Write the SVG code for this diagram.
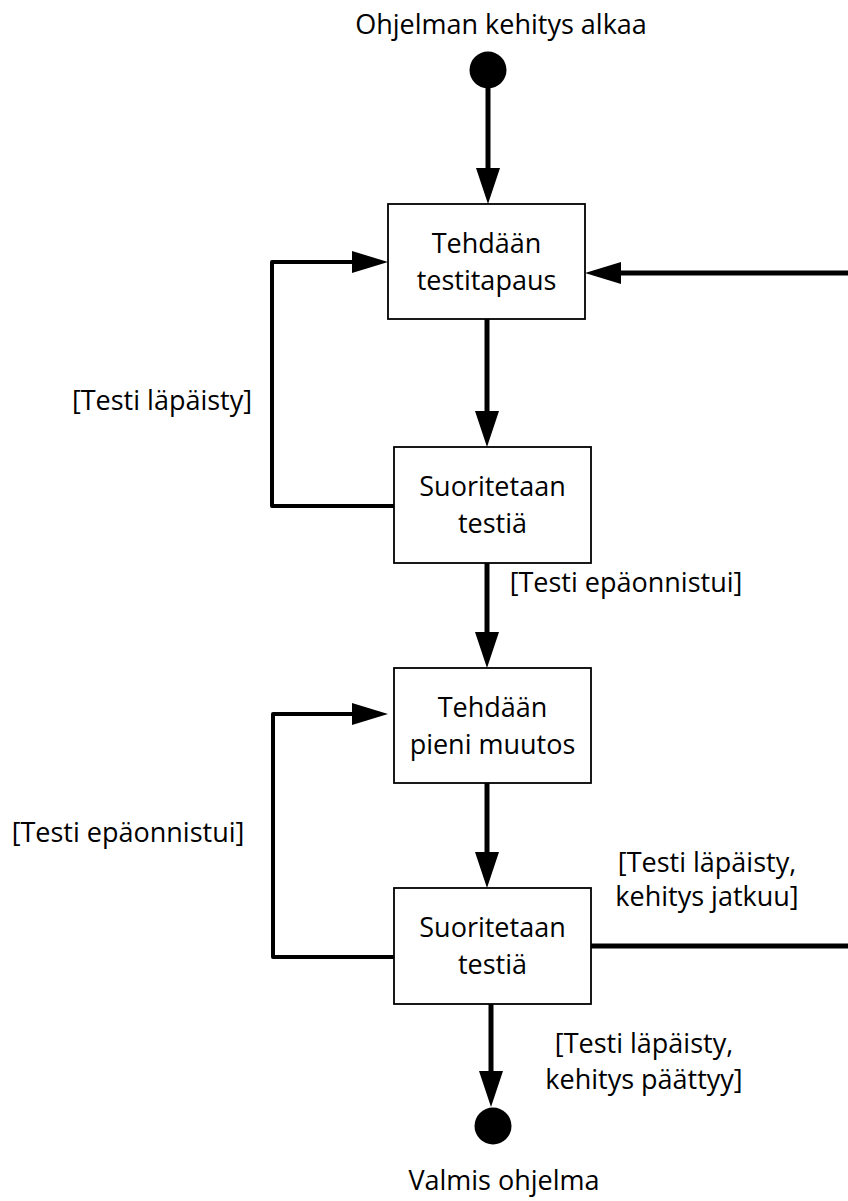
<svg xmlns="http://www.w3.org/2000/svg" width="848" height="1201" viewBox="0 0 848 1201">
  <style>
    text { font-family: "Open Sans", "Liberation Sans", sans-serif; font-size: 27px; fill: #000; }
    .mid { text-anchor: middle; }
    .box { fill: #fff; stroke: #000; stroke-width: 1.8; }
    .flow { fill: none; stroke: #000; stroke-width: 5; }
    .loop { fill: none; stroke: #000; stroke-width: 4; stroke-linejoin: round; stroke-linecap: round; }
    .dot { fill: #000; }
  </style>
  <defs>
    <!-- filled triangular heads; the line ends 30px before the tip -->
    <marker id="headV" markerUnits="userSpaceOnUse" markerWidth="36" markerHeight="24" refX="6" refY="12" orient="auto" overflow="visible">
      <path d="M0,0 L36,12 L0,24 Z" fill="#000"/>
    </marker>
    <marker id="headH" markerUnits="userSpaceOnUse" markerWidth="36" markerHeight="22" refX="6" refY="11" orient="auto" overflow="visible">
      <path d="M0,0 L36,11 L0,22 Z" fill="#000"/>
    </marker>
  </defs>

  <rect width="848" height="1201" fill="#fff"/>

  <g id="connectors">
    <!-- main downward flow -->
    <line class="flow" x1="488" y1="80" x2="488" y2="174" marker-end="url(#headV)"/>
    <line class="flow" x1="487" y1="319" x2="487" y2="417" marker-end="url(#headV)"/>
    <line class="flow" x1="487" y1="563" x2="487" y2="638" marker-end="url(#headV)"/>
    <line class="flow" x1="487" y1="783" x2="487" y2="858" marker-end="url(#headV)"/>
    <line class="flow" x1="491" y1="1004" x2="491" y2="1077" marker-end="url(#headV)"/>
    <!-- loop: test passed, back to writing a test case -->
    <polyline class="loop" points="394,506 272,506 272,262 358,262" marker-end="url(#headH)"/>
    <!-- loop: test failed, back to making a small change -->
    <polyline class="loop" points="394,957 273,957 273,714 358,714" marker-end="url(#headH)"/>
    <!-- development continues: off to the right edge and back in -->
    <line class="flow" x1="591" y1="946" x2="848" y2="946"/>
    <line class="flow" x1="848" y1="273" x2="615" y2="273" marker-end="url(#headH)"/>
  </g>

  <g id="start">
    <text class="mid" x="501" y="34">Ohjelman kehitys alkaa</text>
    <circle class="dot" cx="488" cy="70" r="18.5"/>
  </g>

  <g id="testitapaus">
    <rect class="box" x="388" y="204" width="197" height="115"/>
    <text class="mid" x="486.5" y="253">Tehdään</text>
    <text class="mid" x="486.5" y="290">testitapaus</text>
  </g>

  <g id="suoritetaan1">
    <rect class="box" x="394" y="447" width="197" height="116"/>
    <text class="mid" x="492.5" y="496">Suoritetaan</text>
    <text class="mid" x="492.5" y="533">testiä</text>
  </g>

  <g id="muutos">
    <rect class="box" x="394" y="668" width="197" height="115"/>
    <text class="mid" x="492.5" y="717">Tehdään</text>
    <text class="mid" x="492.5" y="754">pieni muutos</text>
  </g>

  <g id="suoritetaan2">
    <rect class="box" x="394" y="888" width="197" height="116"/>
    <text class="mid" x="492.5" y="937">Suoritetaan</text>
    <text class="mid" x="492.5" y="974">testiä</text>
  </g>

  <g id="end">
    <circle class="dot" cx="493" cy="1126" r="18.5"/>
    <text class="mid" x="504" y="1190">Valmis ohjelma</text>
  </g>

  <g id="labels">
    <text class="mid" x="162" y="410">[Testi läpäisty]</text>
    <text class="mid" x="626" y="592">[Testi epäonnistui]</text>
    <text class="mid" x="128" y="842">[Testi epäonnistui]</text>
    <text class="mid" x="707" y="872">[Testi läpäisty,</text>
    <text class="mid" x="707" y="906">kehitys jatkuu]</text>
    <text class="mid" x="644" y="1053">[Testi läpäisty,</text>
    <text class="mid" x="644" y="1089">kehitys päättyy]</text>
  </g>
</svg>
